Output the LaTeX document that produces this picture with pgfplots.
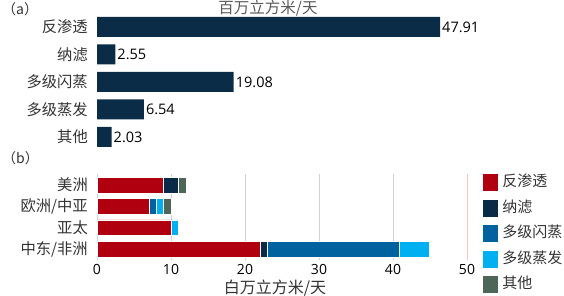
\documentclass[border=0pt]{standalone}
\usepackage{fontspec}
\setmainfont{Open Sans}
\newfontfamily\cjk{Noto Sans CJK SC}
\usepackage{pgfplots}
\pgfplotsset{compat=1.18}
\definecolor{navy}{HTML}{0B2C47}
\definecolor{ro}{HTML}{B0000F}
\definecolor{nf}{HTML}{0A2B47}
\definecolor{msf}{HTML}{0063A0}
\definecolor{med}{HTML}{00B0F0}
\definecolor{oth}{HTML}{4E6657}
\definecolor{txt}{HTML}{333333}
\definecolor{ttl}{HTML}{595959}
\definecolor{pinkline}{HTML}{F2C4C8}
\begin{document}
\begin{tikzpicture}[x=1pt,y=1pt]
\useasboundingbox (0,0) rectangle (564,296);
\node[anchor=west,inner sep=0pt,text=txt,font=\cjk\fontsize{14}{14}\selectfont] at (2,287) {（a）};
\node[anchor=west,inner sep=0pt,text=txt,font=\cjk\fontsize{14}{14}\selectfont] at (2,138) {（b）};
\node[anchor=base,inner sep=0pt,text=ttl,font=\cjk\fontsize{15.5}{15.5}\selectfont] at (268,282.5) {百万立方米/天};
\begin{axis}[
  at={(97pt,145.25pt)}, anchor=south west, scale only axis,
  width=358pt, height=137.5pt,
  xmin=0, xmax=50, ymin=-0.5, ymax=4.5,
  xbar, bar width=20pt,
  axis line style={draw=none}, major tick length=0pt,
  xtick=\empty,
  ytick={0,1,2,3,4},
  yticklabels={其他,多级蒸发,多级闪蒸,纳滤,反渗透},
  yticklabel style={font=\cjk\fontsize{15.3}{15.3}\selectfont, text=txt, inner sep=0pt, xshift=-9pt},
  /pgf/number format/assume math mode=true,
  point meta=explicit,
  nodes near coords,
  nodes near coords style={font=\fontsize{14.5}{15}\selectfont, text=black, anchor=west, inner sep=2pt},
]
\addplot[fill=navy, draw=none] coordinates {(47.91,4) [47.91] (2.55,3) [2.55] (19.08,2) [19.08] (6.54,1) [6.54] (2.03,0) [2.03]};
\end{axis}
\begin{axis}[
  at={(97pt,36.3pt)}, anchor=south west, scale only axis,
  width=370pt, height=85.3pt,
  xmin=0, xmax=50, ymin=-0.5, ymax=3.5,
  xbar stacked, bar width=15.5pt,
  axis line style={draw=none}, major tick length=0pt,
  xtick={0,10,20,30,40},
  extra x ticks={50},
  extra x tick style={grid style={pinkline, line width=0.8pt}},
  xmajorgrids, grid style={black!18, line width=0.8pt},
  ytick={0,1,2,3},
  yticklabels={中东/非洲,亚太,欧洲/中亚,美洲},
  yticklabel style={font=\cjk\fontsize{15.3}{15.3}\selectfont, text=txt, inner sep=0pt, xshift=-9pt},
  /pgf/number format/assume math mode=true,
  xticklabel style={font=\fontsize{14}{14}\selectfont, text=black, yshift=-1.5pt},
  xlabel={\cjk 白万立方米/天},
  xlabel style={at={(axis description cs:0.481,-0.33)}, anchor=center, font=\fontsize{16}{16}\selectfont, text=txt},
  legend style={at={(axis description cs:1.043,1.005)}, anchor=north west, draw=none, fill=none,
    inner sep=0pt, font=\cjk\fontsize{15}{15}\selectfont, text=txt, row sep=8.5pt,
    nodes={inner sep=0pt, text height=11pt, text depth=3pt}},
  legend cell align=left,
  legend image code/.code={\path[#1,draw=none] (0pt,-8.5pt) rectangle (15pt,8.5pt); \path (15pt,0) -- (19pt,0);},
]
\addplot[fill=ro, draw=white, line width=0.4pt] coordinates {(22,0) (10,1) (7,2) (9,3)};
\addplot[fill=nf, draw=white, line width=0.4pt] coordinates {(1,0) (0,1) (0,2) (2,3)};
\addplot[fill=msf, draw=white, line width=0.4pt] coordinates {(17.9,0) (0,1) (1,2) (0,3)};
\addplot[fill=med, draw=white, line width=0.4pt] coordinates {(4,0) (1,1) (1,2) (0,3)};
\addplot[fill=oth, draw=white, line width=0.4pt] coordinates {(0,0) (0,1) (1,2) (1,3)};
\legend{反渗透,纳滤,多级闪蒸,多级蒸发,其他}
\draw[pinkline, line width=0.8pt] (axis cs:50,3.5) -- (axis cs:51.8,3.5);
\end{axis}
\end{tikzpicture}
\end{document}
